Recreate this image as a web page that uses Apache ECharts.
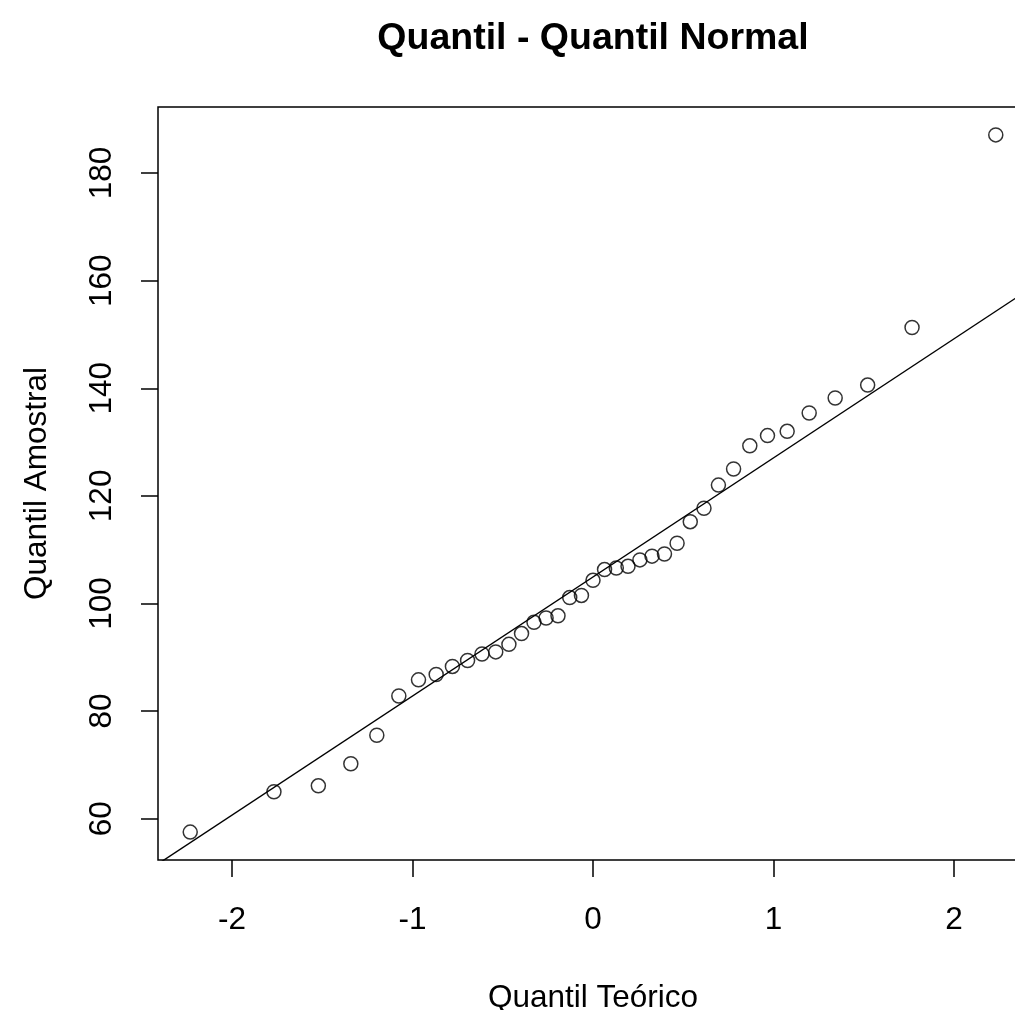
<!DOCTYPE html>
<html>
<head>
<meta charset="utf-8">
<script src="https://cdn.jsdelivr.net/npm/echarts@6/dist/echarts.min.js"></script>
<style>
  html, body { margin: 0; padding: 0; background: #fff; overflow: hidden; }
  #chart { width: 1040px; height: 1010px; }
</style>
</head>
<body>
<div id="chart"></div>
<script>
// theoretical normal quantiles (n = 39)
const theoQ = [
  -2.232, -1.768, -1.522, -1.342, -1.198, -1.076, -0.967, -0.869, -0.779, -0.695,
  -0.615, -0.539, -0.466, -0.396, -0.327, -0.260, -0.194, -0.129, -0.064, 0,
  0.064, 0.129, 0.194, 0.260, 0.327, 0.396, 0.466, 0.539, 0.615, 0.695,
  0.779, 0.869, 0.967, 1.076, 1.198, 1.342, 1.522, 1.768, 2.232
];
// sample quantiles (sorted)
const sampleQ = [
  57.5, 65.0, 66.1, 70.2, 75.5, 82.8, 85.8, 86.8, 88.3, 89.4,
  90.6, 91.0, 92.4, 94.4, 96.5, 97.3, 97.7, 101.1, 101.5, 104.3,
  106.3, 106.6, 106.9, 108.1, 108.8, 109.2, 111.2, 115.2, 117.7, 122.0,
  125.0, 129.3, 131.2, 132.0, 135.4, 138.2, 140.6, 151.3, 187.1
];
const xTicks = [-2, -1, 0, 1, 2];
const yTicks = [60, 80, 100, 120, 140, 160, 180];

// R style axis extension (4%)
function ext(arr) {
  const lo = Math.min(...arr), hi = Math.max(...arr);
  const d = (hi - lo) * 0.04;
  return [lo - d, hi + d];
}
const xr = ext(theoQ);
const yr = ext(sampleQ);

// qqline through the quartiles (type 7)
function quant(arr, p) {
  const h = (arr.length - 1) * p;
  const i = Math.floor(h);
  return arr[i] + (h - i) * (arr[i + 1] - arr[i]);
}
const q1 = quant(sampleQ, 0.25), q3 = quant(sampleQ, 0.75);
const slope = (q3 - q1) / (2 * 0.6744898);
const intercept = (q1 + q3) / 2;
const linePts = [
  [xr[0], intercept + slope * xr[0]],
  [xr[1], intercept + slope * xr[1]]
];

const points = theoQ.map((x, i) => [x, sampleQ[i]]);
const font = 'Liberation Sans, Arial, sans-serif';
const fs = 31.5;

const chart = echarts.init(document.getElementById('chart'));
const option = {
  animation: false,
  backgroundColor: '#fff',
  title: {
    text: 'Quantil - Quantil Normal',
    left: 588,
    top: 15,
    textAlign: 'center',
    textStyle: { fontFamily: font, fontWeight: 'bold', fontSize: 37.5, color: '#000' }
  },
  grid: {
    left: 158, top: 107, right: 12, bottom: 150,
    outerBoundsMode: 'none',
    containLabel: false,
    show: true, borderColor: '#000', borderWidth: 1.5, backgroundColor: 'transparent'
  },
  xAxis: {
    type: 'value',
    min: xr[0], max: xr[1],
    name: 'Quantil Teórico',
    nameLocation: 'middle',
    nameGap: 122,
    nameTextStyle: { fontFamily: font, fontSize: fs, color: '#000' },
    axisLine: { show: false, onZero: false },
    splitLine: { show: false },
    axisTick: { show: true, length: 17, lineStyle: { color: '#000', width: 1.5 }, customValues: xTicks },
    axisLabel: { fontFamily: font, fontSize: fs, color: '#000', margin: 44, customValues: xTicks }
  },
  yAxis: {
    type: 'value',
    min: yr[0], max: yr[1],
    name: 'Quantil Amostral',
    nameLocation: 'middle',
    nameGap: 105,
    nameTextStyle: { fontFamily: font, fontSize: fs, color: '#000' },
    axisLine: { show: false, onZero: false },
    splitLine: { show: false },
    axisTick: { show: true, length: 17, lineStyle: { color: '#000', width: 1.5 }, customValues: yTicks },
    axisLabel: { fontFamily: font, fontSize: fs, color: '#000', margin: 40, rotate: 90, customValues: yTicks }
  },
  series: [
    {
      type: 'scatter',
      data: points,
      symbol: 'circle',
      symbolSize: 14,
      itemStyle: { color: 'rgba(0,0,0,0)', borderColor: '#000', borderWidth: 1.5 },
      silent: true
    },
    {
      type: 'line',
      data: linePts,
      showSymbol: false,
      clip: true,
      lineStyle: { color: '#000', width: 1.4 },
      silent: true
    }
  ]
};
chart.setOption(option);
</script>
</body>
</html>
